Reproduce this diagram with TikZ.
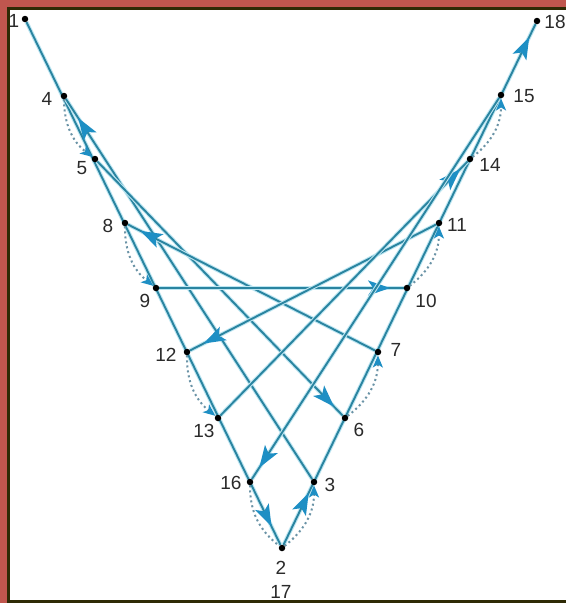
\documentclass[tikz,border=0pt]{standalone}
\usepackage{fontspec}
\setmainfont{Liberation Sans}
\usetikzlibrary{arrows.meta,decorations.markings,backgrounds}
\definecolor{framered}{HTML}{C0564E}
\definecolor{framedark}{HTML}{2E2A05}
\definecolor{threadc}{HTML}{2A84A0}
\definecolor{halo}{HTML}{BDE6F2}
\definecolor{tipc}{HTML}{1E8FC4}
\definecolor{backc}{HTML}{6A93A6}
\definecolor{labc}{HTML}{2A2A2A}
\tikzset{
  dot/.style={circle,fill=black,inner sep=0pt,minimum size=6.5pt},
  lab/.style={font=\fontsize{19}{19}\selectfont,text=labc,inner sep=0pt},
  thread/.style={draw=threadc,line width=1.9pt,preaction={draw=halo,line width=4pt}},
  bigtip/.tip={Stealth[length=22pt,width=15pt,inset=5pt,color=tipc,fill=tipc]},
  tipat/.style={postaction={decorate},decoration={markings,
     mark=at position #1 with {\arrow{bigtip}}}},
  tiptwo/.style 2 args={postaction={decorate},decoration={markings,
     mark=at position #1 with {\arrow{bigtip}},
     mark=at position #2 with {\arrow{bigtip}}}},
  back/.style={draw=backc,line width=2pt,dash pattern=on 2pt off 3pt,bend right=26},
  backtip/.style={-{Stealth[length=12pt,width=10pt,inset=3pt,color=tipc,fill=tipc]}},
}
\begin{document}
\begin{tikzpicture}[x=1pt,y=-1pt]
\useasboundingbox (0,0) rectangle (566,603);
% points
\node[dot] (n1) at (25,19) {};
\node[dot] (n2) at (282,548) {};
\node[dot] (n3) at (314,482) {};
\node[dot] (n4) at (64,96) {};
\node[dot] (n5) at (95,159) {};
\node[dot] (n6) at (345,418) {};
\node[dot] (n7) at (378,352) {};
\node[dot] (n8) at (125,223) {};
\node[dot] (n9) at (156,288) {};
\node[dot] (n10) at (407,288) {};
\node[dot] (n11) at (439,223) {};
\node[dot] (n12) at (187,352) {};
\node[dot] (n13) at (218,418) {};
\node[dot] (n14) at (470,159) {};
\node[dot] (n15) at (501,95) {};
\node[dot] (n16) at (250,482) {};
\node[dot] (n18) at (537,21) {};
% labels
\node[lab] (l1) at (14,21) {1};
\node[lab] (l4) at (47,99) {4};
\node[lab] (l5) at (82,168) {5};
\node[lab] (l8) at (108,226) {8};
\node[lab] (l9) at (145,301) {9};
\node[lab] (l12) at (166,355) {12};
\node[lab] (l13) at (204,431) {13};
\node[lab] (l16) at (231,483) {16};
\node[lab] (l2) at (281,568) {2};
\node[lab] (l17) at (281,592) {17};
\node[lab] (l3) at (330,485) {3};
\node[lab] (l6) at (359,430) {6};
\node[lab] (l7) at (396,350) {7};
\node[lab] (l10) at (426,301) {10};
\node[lab] (l11) at (457,225) {11};
\node[lab] (l14) at (490,165) {14};
\node[lab] (l15) at (524,96) {15};
\node[lab] (l18) at (555,22) {18};
\begin{scope}[on background layer]
% frame
\fill[framered] (0,0) rectangle (566,603);
\fill[framedark] (7,7) rectangle (566,603);
\fill[white] (10,10) rectangle (566,600);
% front threads
\draw[thread,tipat=0.965] (n1) -- (n2);
\draw[thread,tiptwo={0.1}{0.975}] (n2) -- (n18);
\draw[thread,tipat=0.95] (n3) -- (n4);
\draw[thread,tipat=0.965] (n5) -- (n6);
\draw[thread,tipat=0.95] (n7) -- (n8);
\draw[thread,tipat=0.945] (n9) -- (n10);
\draw[thread,tipat=0.945] (n11) -- (n12);
\draw[thread,tipat=0.97] (n13) -- (n14);
\draw[thread,tipat=0.97] (n15) -- (n16);
% back threads
\draw[back,backtip] (n4) to (n5);
\draw[back,backtip] (n8) to (n9);
\draw[back,backtip] (n12) to (n13);
\draw[back] (n16) to (n2);
\draw[back,backtip] (n2) to (n3);
\draw[back,backtip] (n6) to (n7);
\draw[back,backtip] (n10) to (n11);
\draw[back,backtip] (n14) to (n15);
\end{scope}
\end{tikzpicture}
\end{document}
